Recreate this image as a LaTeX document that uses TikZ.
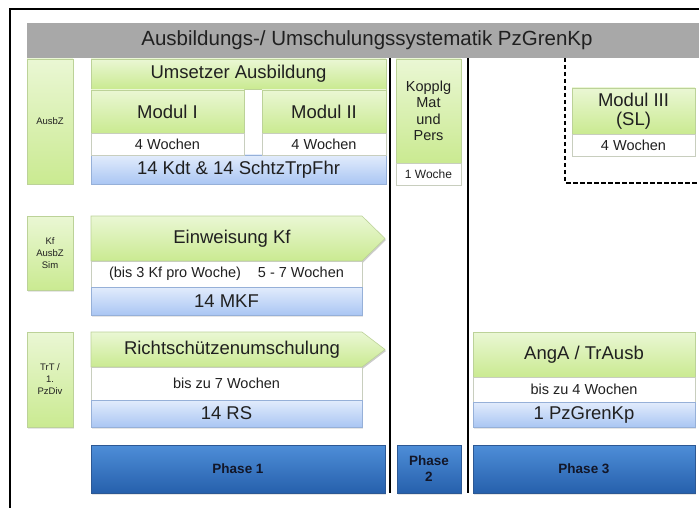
\documentclass[tikz,border=0pt]{standalone}
\usepackage{fontspec}
\setmainfont{Liberation Sans}
\usetikzlibrary{shadows}

\definecolor{titlegray}{RGB}{168,168,168}
\definecolor{gtop}{RGB}{234,247,212}
\definecolor{gbot}{RGB}{202,234,145}
\definecolor{gedge}{RGB}{188,210,152}
\definecolor{btop}{RGB}{226,236,252}
\definecolor{bbot}{RGB}{170,198,243}
\definecolor{bedge}{RGB}{150,176,216}
\definecolor{ptop}{RGB}{78,142,216}
\definecolor{pbot}{RGB}{38,96,172}
\definecolor{pedge}{RGB}{44,88,148}
\definecolor{txt}{RGB}{32,32,32}
\definecolor{ptxt}{RGB}{18,22,40}
\definecolor{wedge}{RGB}{200,206,190}

\newcommand\szTitle{\fontsize{20.5}{24}\selectfont}
\newcommand\szMain{\fontsize{18.5}{21}\selectfont}
\newcommand\szSub{\fontsize{14.5}{16.5}\selectfont}
\newcommand\szWeek{\fontsize{12}{14}\selectfont}
\newcommand\szSide{\fontsize{9.5}{12}\selectfont}
\newcommand\szPhase{\fontsize{13.5}{16}\selectfont\bfseries}

\tikzset{
  cell/.style={inner sep=0pt, outer sep=0pt, anchor=north west, text=txt,
    align=center, line width=0.6pt},
  soft shadow/.style={drop shadow={opacity=0.2, shadow xshift=1pt, shadow yshift=-1.5pt}},
  greencell/.style={cell, draw=gedge, top color=gtop, bottom color=gbot, soft shadow},
  whitecell/.style={cell, draw=wedge, fill=white},
  bluecell/.style={cell, draw=bedge, top color=btop, bottom color=bbot, soft shadow},
  phasecell/.style={cell, draw=pedge, top color=ptop, bottom color=pbot, soft shadow,
    text=ptxt, font=\szPhase},
  titlebar/.style={cell, fill=titlegray, text=txt, font=\szTitle},
  greenarrow/.style={draw=gedge, line width=0.6pt, top color=gtop, bottom color=gbot,
    preaction={fill=black, fill opacity=0.2, transform canvas={xshift=1pt, yshift=-1.5pt}}},
  label/.style={inner sep=0pt, text=txt, font=\szMain},
  divider/.style={line width=1.6pt, black},
  slframe/.style={line width=1.5pt, black, dash pattern=on 4.5pt off 2.5pt},
}

\begin{document}
\begin{tikzpicture}[x=1pt, y=-1pt]
  \clip (0,0) rectangle (699,508);

  % outer frame (runs off the page at right and bottom)
  \draw[line width=1.6pt] (10,530) -- (10,9) -- (720,9);

  % phase dividers
  \coordinate (divAtop) at (390,58);
  \coordinate (divAbot) at (390,493);
  \coordinate (divBtop) at (468,58);
  \coordinate (divBbot) at (468,493);
  \draw[divider] (divAtop) -- (divAbot);
  \draw[divider] (divBtop) -- (divBbot);

  % dashed frame around Modul III
  \coordinate (slA) at (565,58);
  \coordinate (slB) at (565,183);
  \coordinate (slC) at (720,183);
  \draw[slframe] (slA) -- (slB) -- (slC);

  % heading
  \node[titlebar, minimum width=680pt, minimum height=35pt] (title) at (27,23)
    {Ausbildungs-/ Umschulungssystematik PzGrenKp};

  % row labels on the left
  \node[greencell, minimum width=46pt, minimum height=125pt, font=\szSide] (lblAusbZ) at (27,59) {AusbZ};
  \node[greencell, minimum width=46pt, minimum height=74pt, font=\szSide] (lblKf) at (27,216) {Kf\\AusbZ\\Sim};
  \node[greencell, minimum width=46pt, minimum height=95pt, font=\szSide] (lblTrT) at (27,332) {TrT /\\1.\\PzDiv};

  % Umsetzer Ausbildung
  \node[greencell, minimum width=295pt, minimum height=30pt, font=\szMain] (umsetzer) at (91,59) {Umsetzer Ausbildung};
  \node[bluecell, minimum width=295pt, minimum height=29pt, font=\szMain] (kdt) at (91,155) {14 Kdt \& 14 SchtzTrpFhr};
  \node[greencell, minimum width=153pt, minimum height=43pt, font=\szMain] (modI) at (91,90) {Modul I};
  \node[whitecell, minimum width=153pt, minimum height=22pt, font=\szSub] (modIw) at (91,133) {4 Wochen};
  \node[greencell, minimum width=124pt, minimum height=43pt, font=\szMain] (modII) at (262,90) {Modul II};
  \node[whitecell, minimum width=124pt, minimum height=22pt, font=\szSub] (modIIw) at (262,133) {4 Wochen};

  % Kopplung
  \node[greencell, minimum width=65pt, minimum height=104pt, font=\szSub] (kopplg) at (396,59) {Kopplg\\Mat\\und\\Pers};
  \node[whitecell, minimum width=65pt, minimum height=22pt, font=\szWeek] (kopplgw) at (396,163) {1 Woche};

  % Modul III
  \node[greencell, minimum width=123pt, minimum height=46pt, font=\fontsize{18.5}{19}\selectfont] (modIII) at (572,88) {Modul III\\(SL)};
  \node[whitecell, minimum width=123pt, minimum height=22pt, font=\szSub] (modIIIw) at (572,134) {4 Wochen};

  % Einweisung Kf
  \path[greenarrow] (91,216) -- (362,216) -- (385,238.5) -- (362,261) -- (91,261) -- cycle;
  \node[label] (einw) at (232,238.5) {Einweisung Kf};
  \node[whitecell, minimum width=271pt, minimum height=26pt, font=\szSub] (einww) at (91,261)
    {(bis 3 Kf pro Woche)\hspace{17pt}5 - 7 Wochen};
  \node[bluecell, minimum width=271pt, minimum height=28pt, font=\szMain] (mkf) at (91,287) {14 MKF};

  % Richtschuetzenumschulung
  \path[greenarrow] (91,332) -- (362,332) -- (385,349.5) -- (362,367) -- (91,367) -- cycle;
  \node[label] (richt) at (232,349.5) {Richtschützenumschulung};
  \node[whitecell, minimum width=271pt, minimum height=33pt, font=\szSub] (richtw) at (91,367) {bis zu 7 Wochen};
  \node[bluecell, minimum width=271pt, minimum height=27pt, font=\szMain] (rs) at (91,400) {14 RS};

  % AngA / TrAusb
  \node[greencell, minimum width=222pt, minimum height=45pt, font=\szMain] (anga) at (473,332) {AngA / TrAusb};
  \node[whitecell, minimum width=222pt, minimum height=25pt, font=\szSub] (angaw) at (473,377) {bis zu 4 Wochen};
  \node[bluecell, minimum width=222pt, minimum height=25pt, font=\szMain] (kp) at (473,402) {1 PzGrenKp};

  % phases
  \node[phasecell, minimum width=294pt, minimum height=48pt] (ph1) at (91,445) {Phase 1};
  \node[phasecell, minimum width=64pt, minimum height=48pt] (ph2) at (397,445) {Phase\\2};
  \node[phasecell, minimum width=222pt, minimum height=48pt] (ph3) at (473,445) {Phase 3};
\end{tikzpicture}
\end{document}
